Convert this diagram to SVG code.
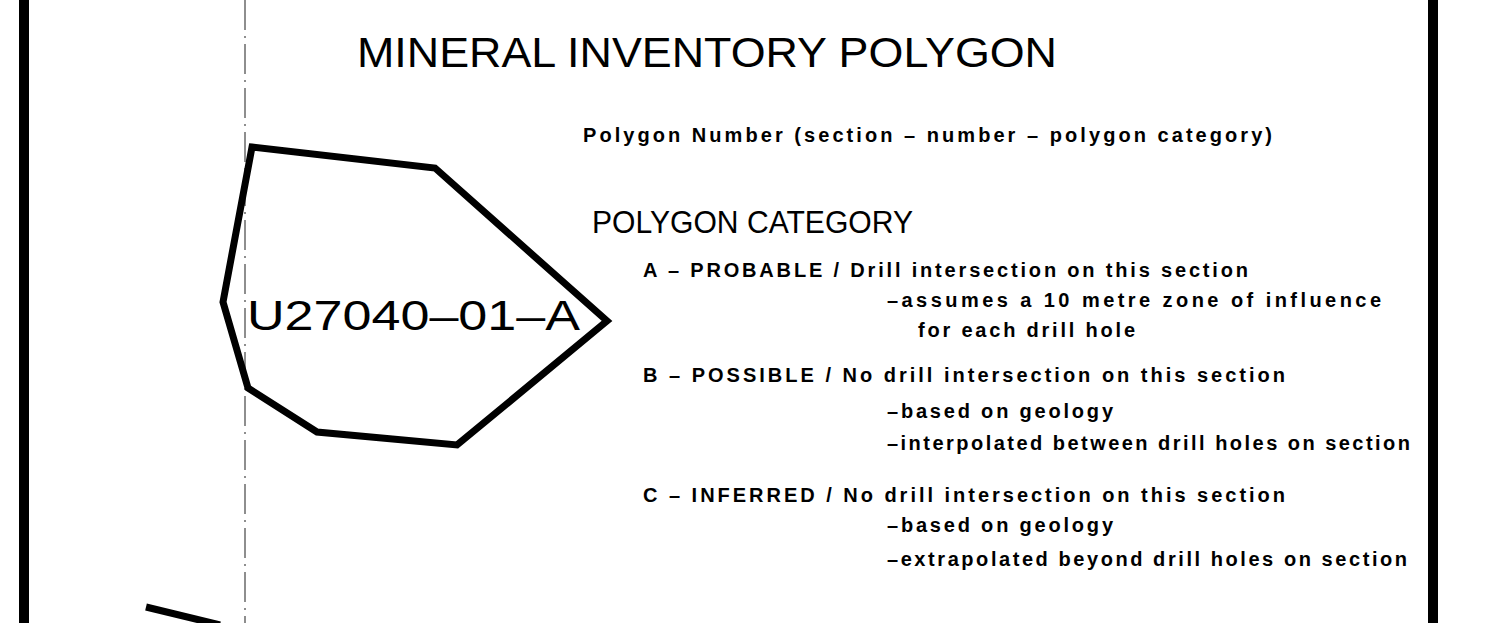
<svg xmlns="http://www.w3.org/2000/svg" width="1486" height="623" viewBox="0 0 1486 623">
<style>
.t{font-family:"Liberation Sans",Arial,sans-serif;fill:#000}
.big{font-size:42px}
.hd{font-size:31px}
.sm{font-size:20px;font-weight:bold}
.thick{fill:none;stroke:#000;stroke-width:7;stroke-linejoin:miter}
.frame{stroke:#000;stroke-width:10}
.dash{stroke:#444;stroke-width:1.2;stroke-dasharray:30 6 2 6}
</style>
<rect width="1486" height="623" fill="#fff"/>
<g id="frame">
<line class="frame" x1="24" y1="0" x2="24" y2="623"/>
<line class="frame" x1="1433" y1="0" x2="1433" y2="623"/>
<line class="dash" x1="245" y1="0" x2="245" y2="623"/>
</g>
<g id="title">
<text class="t big" x="357" y="67" textLength="700" lengthAdjust="spacingAndGlyphs">MINERAL  INVENTORY  POLYGON</text>
</g>
<g id="polygon">
<polygon class="thick" points="252,147 435,168 607,321 457,445 317,432 248,388 223,302"/>
<text class="t big" x="247" y="330" textLength="333" lengthAdjust="spacingAndGlyphs">U27040–01–A</text>
</g>
<g id="legend">
<text class="t sm" x="583" y="142" textLength="689" lengthAdjust="spacing">Polygon  Number  (section  –  number  –  polygon  category)</text>
<text class="t hd" x="592" y="233" textLength="321" lengthAdjust="spacingAndGlyphs">POLYGON  CATEGORY</text>
<text class="t sm" x="643" y="277" textLength="605" lengthAdjust="spacing">A  –  PROBABLE  /  Drill  intersection  on  this  section</text>
<text class="t sm" x="887" y="307" textLength="494" lengthAdjust="spacing">–assumes  a  10  metre  zone  of  influence</text>
<text class="t sm" x="918" y="337" textLength="217" lengthAdjust="spacing">for  each  drill  hole</text>
<text class="t sm" x="643" y="382" textLength="642" lengthAdjust="spacing">B  –  POSSIBLE  /  No  drill  intersection  on  this  section</text>
<text class="t sm" x="887" y="418" textLength="226" lengthAdjust="spacing">–based  on  geology</text>
<text class="t sm" x="887" y="450" textLength="523" lengthAdjust="spacing">–interpolated  between  drill  holes  on  section</text>
<text class="t sm" x="643" y="502" textLength="642" lengthAdjust="spacing">C  –  INFERRED  /  No  drill  intersection  on  this  section</text>
<text class="t sm" x="887" y="532" textLength="226" lengthAdjust="spacing">–based  on  geology</text>
<text class="t sm" x="887" y="566" textLength="520" lengthAdjust="spacing">–extrapolated  beyond  drill  holes  on  section</text>
</g>
<g id="fragments">
<line class="thick" x1="146" y1="607" x2="220" y2="625"/>
</g>
</svg>
